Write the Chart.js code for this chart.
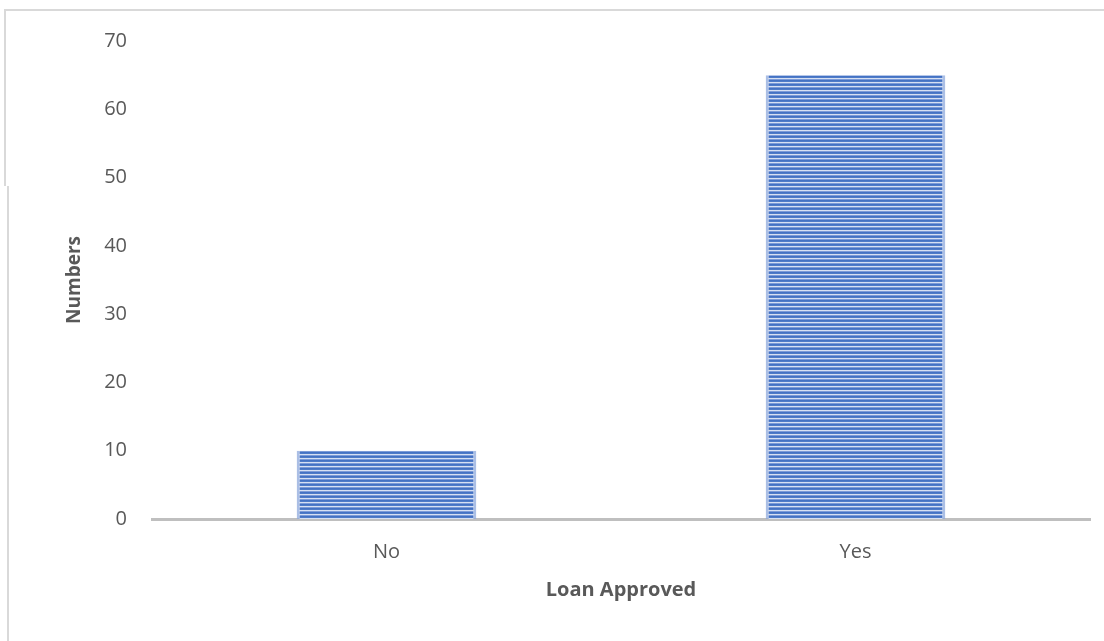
<!DOCTYPE html>
<html>
<head>
<meta charset="utf-8">
<title>Loan Approved</title>
<script src="https://cdn.jsdelivr.net/npm/chart.js@4/dist/chart.umd.min.js"></script>
<style>
  html, body { margin: 0; padding: 0; background: #ffffff; }
  #wrap { position: relative; width: 1104px; height: 641px; }
  .edge { position: absolute; background: #d9d9d9; }
</style>
</head>
<body>
<div id="wrap">
  <div class="edge" style="left:4px; top:9px; width:1100px; height:2px;"></div>
  <div class="edge" style="left:4px; top:9px; width:2px; height:177px;"></div>
  <div class="edge" style="left:7px; top:186px; width:2px; height:455px;"></div>
  <canvas id="chart" width="1104" height="641"></canvas>
</div>
<script>
// Chart data
const categories = ['No', 'Yes'];
const counts = [10, 65];
const yTicks = [0, 10, 20, 30, 40, 50, 60, 70];

const textColor = '#595959';

// Horizontal stripe fill like the original bars
function stripePattern() {
  const c = document.createElement('canvas');
  c.width = 8;
  c.height = 4;
  const g = c.getContext('2d');
  const rows = ['#4472c4', '#4f7bc8', '#d6e0f3', '#7c9bd8'];
  rows.forEach((col, i) => {
    g.fillStyle = col;
    g.fillRect(0, i, 8, 1);
  });
  return g.createPattern(c, 'repeat');
}

const ctx = document.getElementById('chart').getContext('2d');

new Chart(ctx, {
  type: 'bar',
  data: {
    labels: categories,
    datasets: [{
      label: 'Numbers',
      data: counts,
      backgroundColor: stripePattern(),
      borderColor: 'rgba(143, 170, 220, 0.75)',
      borderWidth: { left: 3, right: 3, top: 0, bottom: 0 },
      borderSkipped: false,
      barPercentage: 1,
      categoryPercentage: 0.383
    }]
  },
  options: {
    responsive: false,
    animation: false,
    layout: {
      padding: { top: 41, right: 14, bottom: 0, left: 0 }
    },
    plugins: {
      legend: { display: false },
      tooltip: { enabled: false }
    },
    scales: {
      x: {
        grid: { display: false, drawTicks: false },
        border: { display: true, color: '#bfbfbf', width: 3 },
        ticks: {
          color: textColor,
          padding: 21,
          font: { family: 'Open Sans', size: 20 }
        },
        title: {
          display: true,
          text: 'Loan Approved',
          color: textColor,
          padding: { top: 0, bottom: 39 },
          font: { family: 'Open Sans', size: 20, weight: 'bold' }
        },
        afterFit: (scale) => { scale.height = 122; }
      },
      y: {
        min: 0,
        max: 70,
        afterBuildTicks: (scale) => {
          scale.ticks = yTicks.map(v => ({ value: v }));
        },
        grid: { display: false, drawTicks: false },
        border: { display: false },
        ticks: {
          color: textColor,
          padding: 25,
          font: { family: 'Open Sans', size: 20 }
        },
        title: {
          display: true,
          text: 'Numbers',
          color: textColor,
          padding: { top: 63, bottom: 0 },
          font: { family: 'Open Sans', size: 19, weight: 'bold' }
        },
        afterFit: (scale) => { scale.width = 152; }
      }
    }
  }
});
</script>
</body>
</html>
